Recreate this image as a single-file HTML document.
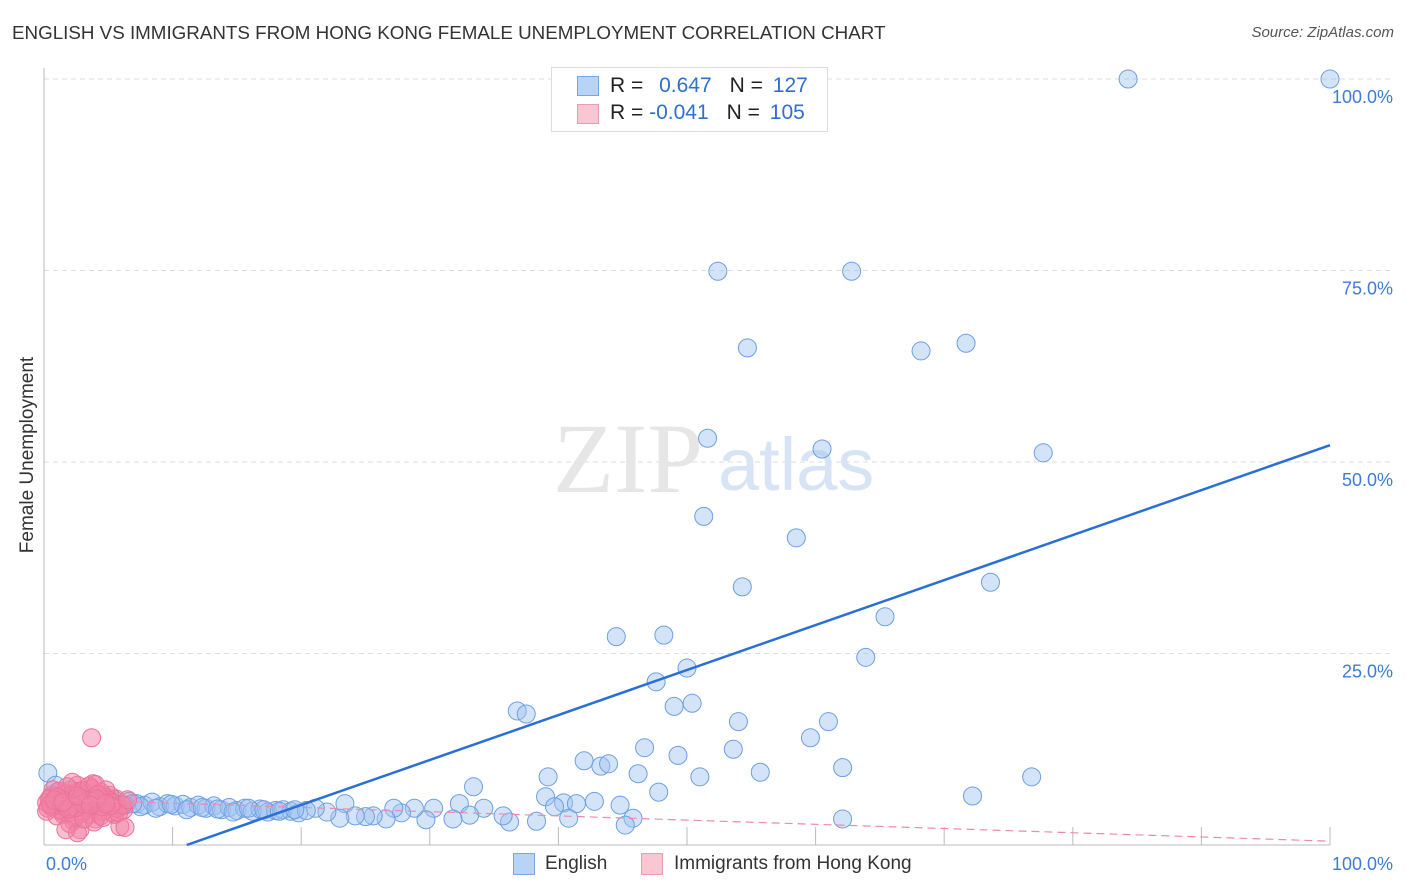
<!DOCTYPE html>
<html><head><meta charset="utf-8"><style>
body{margin:0;background:#fff;font-family:"Liberation Sans",sans-serif;}
#wrap{position:relative;width:1406px;height:892px;overflow:hidden;}
.t{position:absolute;white-space:nowrap;}
</style></head><body>
<div id="wrap">
<div class="t" style="left:12px;top:22px;font-size:18.8px;color:#333;">ENGLISH VS IMMIGRANTS FROM HONG KONG FEMALE UNEMPLOYMENT CORRELATION CHART</div>
<div class="t" style="right:12px;top:24px;font-size:15px;color:#555;font-style:italic;">Source: ZipAtlas.com</div>
<svg id="svg" width="1406" height="892" style="position:absolute;left:0;top:0"></svg>
<div class="t" style="left:18px;top:455px;font-size:19px;color:#333;transform:translate(-50%,-50%) rotate(-90deg);transform-origin:center;margin-left:10px">Female Unemployment</div>
<div style="position:absolute;left:551px;top:67px;width:275px;height:63px;border:1px solid #ddd;background:#fff;">
 <div style="position:absolute;left:25px;top:8px;width:20px;height:18px;background:#b8d3f5;border:1px solid #7aa7e3"></div>
 <div class="t" style="left:58px;top:6px;font-size:21px;color:#222">R = <span style="color:#2f6fd0;margin-left:10px">0.647</span><span style="margin-left:18px">N =</span> <span style="color:#2f6fd0;margin-left:4px">127</span></div>
 <div style="position:absolute;left:25px;top:36px;width:20px;height:18px;background:#f9c6d4;border:1px solid #ef9ab2"></div>
 <div class="t" style="left:58px;top:33px;font-size:21px;color:#222">R = <span style="color:#2f6fd0">-0.041</span><span style="margin-left:18px">N =</span> <span style="color:#2f6fd0;margin-left:4px">105</span></div>
</div>
<div style="position:absolute;left:513px;top:853px;width:20px;height:20px;background:#b8d3f5;border:1px solid #7aa7e3"></div>
<div class="t" style="left:545px;top:853px;font-size:19px;color:#333">English</div>
<div style="position:absolute;left:641px;top:853px;width:20px;height:20px;background:#f9c6d4;border:1px solid #ef9ab2"></div>
<div class="t" style="left:674px;top:853px;font-size:19px;color:#333">Immigrants from Hong Kong</div>
</div>
<script>
const yTicks=[25,50,75,100];
const yTickLabels=["25.0%","50.0%","75.0%","100.0%"];
const xTicks=[0,10,20,30,40,50,60,70,80,90,100];
const blueX=[84.3,100,52.4,62.8,54.7,68.2,71.7,51.6,60.5,77.7,51.3,58.5,54.3,73.6,44.5,48.2,65.4,63.9,50.0,47.6,49.0,50.4,36.8,37.5,54.0,61.0,59.6,46.7,49.3,53.6,42.0,43.3,43.9,46.2,51.0,55.7,62.1,76.8,39.2,33.4,72.2,39.0,47.8,62.1,45.8,45.2,40.4,41.4,42.8,40.8,44.8,39.7,38.3,36.2,35.7,34.2,32.3,33.1,31.8,30.3,29.7,28.8,27.8,27.2,26.6,25.6,25.0,23.4,24.2,23.0,22.0,21.1,
0.3,0.9,0.6,1.2,1.8,2.4,3.0,3.6,4.2,4.8,5.4,6.0,6.6,7.2,7.8,8.4,9.0,9.6,10.2,10.8,11.4,12.0,12.6,13.2,13.8,14.4,15.0,15.6,16.2,16.8,17.4,18.0,18.6,19.2,19.8,20.4,1.5,2.7,3.9,5.1,6.3,7.5,8.7,9.9,11.1,12.3,13.5,14.7,15.9,17.1,18.3,19.5,2.1,4.5,6.9];
const blueY=[100,100,74.9,74.9,64.9,64.5,65.5,53.1,51.7,51.2,42.9,40.1,33.7,34.3,27.2,27.4,29.8,24.5,23.1,21.3,18.1,18.5,17.5,17.1,16.1,16.1,14.0,12.7,11.7,12.5,11.0,10.3,10.6,9.3,8.9,9.5,10.1,8.9,8.9,7.6,6.4,6.3,6.9,3.4,3.5,2.6,5.5,5.4,5.7,3.5,5.2,5.0,3.1,3.0,3.8,4.8,5.4,3.9,3.4,4.8,3.3,4.8,4.2,4.8,3.4,3.8,3.7,5.4,3.8,3.5,4.3,4.8,
9.4,7.8,6.5,7.0,6.2,5.8,6.4,5.6,6.1,5.5,6.0,5.3,5.7,5.4,5.2,5.6,5.0,5.4,5.1,5.3,4.9,5.2,4.8,5.1,4.6,4.9,4.5,4.8,4.4,4.7,4.3,4.5,4.6,4.4,4.2,4.5,5.5,6.0,5.8,5.9,5.2,5.0,4.8,5.3,4.6,4.9,4.7,4.3,4.8,4.6,4.4,4.6,7.2,5.6,5.4];
const pinkX=[3.7,0.2,0.5,0.8,1.1,1.4,1.7,2.0,2.3,2.6,2.9,3.2,3.5,3.8,4.1,4.4,4.7,5.0,5.3,5.6,5.9,6.2,0.3,0.7,1.0,1.3,1.6,1.9,2.2,2.5,2.8,3.1,3.4,3.7,4.0,4.3,4.6,4.9,5.2,5.5,0.4,0.9,1.5,2.1,2.7,3.3,3.9,4.5,5.1,5.7,1.2,1.8,2.4,3.0,3.6,4.2,4.8,0.6,1.4,2.2,3.0,3.8,4.6,2.0,2.6,3.2,1.6,2.9,4.4,0.2,0.8,2.4,3.5,5.0,1.0,2.0,3.1,4.0,4.9,5.8,6.3,1.7,2.8,0.5,1.3,2.1,2.9,3.7,4.5,5.3,6.1,1.0,2.5,3.4,4.2,0.8,1.9,3.0,4.1,5.2,6.5,1.5,2.6,3.6,4.8];
const pinkY=[14.0,5.5,6.2,5.0,7.0,4.4,6.8,5.8,3.2,7.8,5.2,6.5,4.0,8.0,5.6,3.8,6.4,5.0,4.2,6.0,2.4,4.6,4.8,7.2,3.8,5.9,6.6,4.2,8.2,5.4,2.0,6.9,4.8,7.4,3.4,5.8,4.4,6.2,5.2,4.0,6.0,5.2,4.0,6.5,7.0,5.5,3.0,5.0,6.5,4.8,4.6,7.6,5.9,4.4,6.2,5.4,7.2,5.0,6.0,4.8,7.1,5.6,3.6,2.8,1.6,5.3,5.1,4.1,6.9,4.4,5.7,3.6,7.7,5.9,6.3,5.0,3.4,7.9,5.5,4.2,2.3,2.0,5.8,5.3,5.6,5.1,6.1,5.7,5.0,5.5,5.2,6.3,4.9,5.8,6.6,5.9,4.7,5.4,6.0,5.1,5.9,5.6,6.4,5.2,5.4];
const blueTrend=[[11.1,0],[100,52.2]];
const pinkTrend=[[0,6.0],[100,0.5]];
const svg=document.getElementById('svg');const NS='http://www.w3.org/2000/svg';
const X0=44,X1=1330,Y0=845,Y1=79;
const sx=v=>X0+(X1-X0)*v/100, sy=v=>Y0-(Y0-Y1)*v/100;
function mk(t,a){const e=document.createElementNS(NS,t);for(const k in a)e.setAttribute(k,a[k]);svg.appendChild(e);return e;}
yTicks.forEach((v,i)=>{
 const g=mk('line',{x1:X0,x2:X1+60,y1:sy(v),y2:sy(v),stroke:'#ddd','stroke-dasharray':'5,4'});
 
 
 const t=mk('text',{x:1393,y:sy(v)+24,'text-anchor':'end','font-size':18,fill:'#3f7bd6','font-family':'Liberation Sans'});
 t.textContent=yTickLabels[i];
 
 
});
const wm=mk('text',{x:553,y:492,'font-size':100,fill:'#e6e6e6','font-family':'Liberation Serif'});wm.textContent='ZIP';


const wm2=mk('text',{x:718,y:490,'font-size':74,fill:'#d6e4f5','font-family':'Liberation Sans'});wm2.textContent='atlas';


mk('line',{x1:X0,x2:X0,y1:68,y2:Y0,stroke:'#bbb'});
mk('line',{x1:X0,x2:X1,y1:Y0,y2:Y0,stroke:'#bbb'});
xTicks.forEach(v=>{const l=mk('line',{x1:sx(v),x2:sx(v),y1:Y0,y2:Y0-18,stroke:'#bbb'});
 
 });
const xl=mk('text',{x:46,y:870,'font-size':18,fill:'#3f7bd6','font-family':'Liberation Sans'});xl.textContent='0.0%';


const xr=mk('text',{x:1393,y:870,'text-anchor':'end','font-size':18,fill:'#3f7bd6','font-family':'Liberation Sans'});xr.textContent='100.0%';


blueX.forEach((v,i)=>{const c=mk('circle',{cx:sx(v),cy:sy(blueY[i]),r:9,fill:'rgba(160,196,240,0.45)',stroke:'#6d9fe2','stroke-width':1});
 
 });
pinkX.forEach((v,i)=>{const c=mk('circle',{cx:sx(v),cy:sy(pinkY[i]),r:9,fill:'rgba(242,130,165,0.5)',stroke:'#ec7298','stroke-width':1});
 
 });
const pt=mk('line',{x1:sx(pinkTrend[0][0]),y1:sy(pinkTrend[0][1]),x2:sx(pinkTrend[1][0]),y2:sy(pinkTrend[1][1]),stroke:'#ee8aa8','stroke-width':1.2,'stroke-dasharray':'8,5'});


const bt=mk('line',{x1:sx(blueTrend[0][0]),y1:sy(blueTrend[0][1]),x2:sx(blueTrend[1][0]),y2:sy(blueTrend[1][1]),stroke:'#2a6fd6','stroke-width':2.5});


</script>
</body></html>
